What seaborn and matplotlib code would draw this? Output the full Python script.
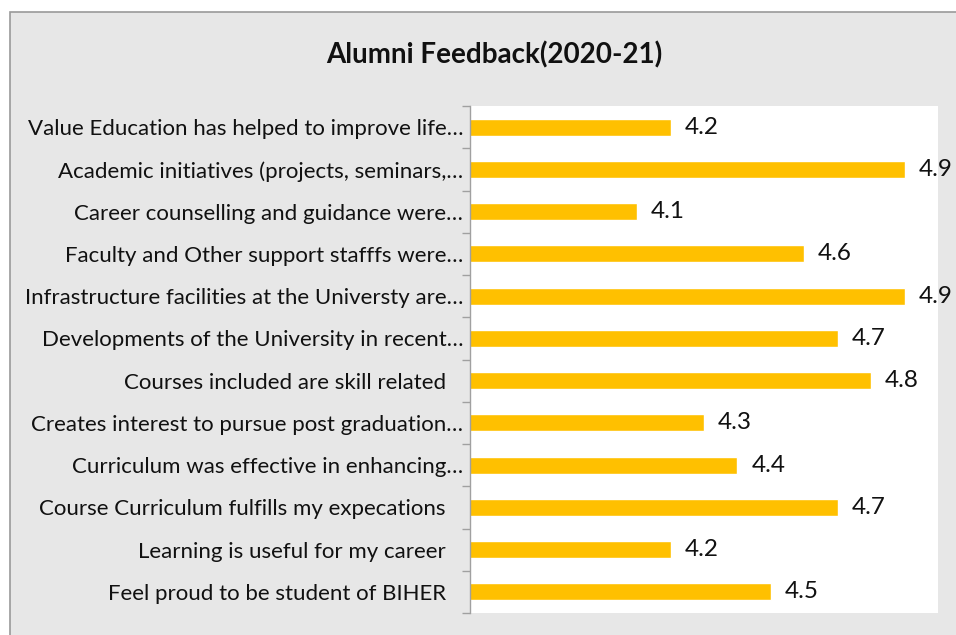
import matplotlib
matplotlib.use("Agg")
import matplotlib.pyplot as plt
import seaborn as sns
from matplotlib.patches import Rectangle

questions = [
    "Value Education has helped to improve life…",
    "Academic initiatives (projects, seminars,…",
    "Career counselling and guidance were…",
    "Faculty and Other support stafffs were…",
    "Infrastructure facilities at the Universty are…",
    "Developments of the University in recent…",
    "Courses included are skill related   ",
    "Creates interest to pursue post graduation…",
    "Curriculum was effective in enhancing…",
    "Course Curriculum fulfills my expecations   ",
    "Learning is useful for my career   ",
    "Feel proud to be student of BIHER   ",
]
scores = [4.2, 4.9, 4.1, 4.6, 4.9, 4.7, 4.8, 4.3, 4.4, 4.7, 4.2, 4.5]

sns.set_style("white")
plt.rcParams["font.family"] = ["Lato", "DejaVu Sans"]

fig = plt.figure(figsize=(9.56, 6.35), dpi=100, facecolor="white")

# chart frame
frame = Rectangle((10 / 956, -0.05), 1.1, 1 - 12 / 635 + 0.05, transform=fig.transFigure,
                  facecolor="#E7E7E7", edgecolor="#9A9A9A", linewidth=1.2, zorder=0)
fig.add_artist(frame)

ax = fig.add_axes([470 / 956, 1 - 613 / 635, (938 - 470) / 956, (613 - 106) / 635])
ax.set_facecolor("white")

sns.barplot(x=scores, y=questions, orient="h", color="#FFC000", width=0.4,
            saturation=1, ax=ax)

ax.set_xlim(3.6, 5.0)
ax.set_ylim(len(questions) - 0.5, -0.5)
ax.set_xlabel("")
ax.set_ylabel("")
ax.xaxis.set_visible(False)
for s in ["top", "right", "bottom"]:
    ax.spines[s].set_visible(False)
ax.spines["left"].set_color("#A0A0A0")
ax.spines["left"].set_linewidth(1.0)

ax.set_yticks([i - 0.5 for i in range(len(questions) + 1)], minor=True)
ax.tick_params(axis="y", which="minor", length=6, color="#A0A0A0", width=1.0, left=True)
ax.tick_params(axis="y", which="major", length=0, pad=5, labelsize=16, labelcolor="#111111")

for i, v in enumerate(scores):
    ax.annotate(f"{v}", xy=(v, i), xytext=(10, 0), textcoords="offset points",
                va="center", ha="left", fontsize=17.5, color="#111111", clip_on=False)

fig.text(494 / 956, 1 - 55 / 635, "Alumni Feedback(2020-21)", ha="center", va="center",
         fontsize=20, fontweight="bold", color="#111111")

fig.savefig("out.png", dpi=100, facecolor="white")
